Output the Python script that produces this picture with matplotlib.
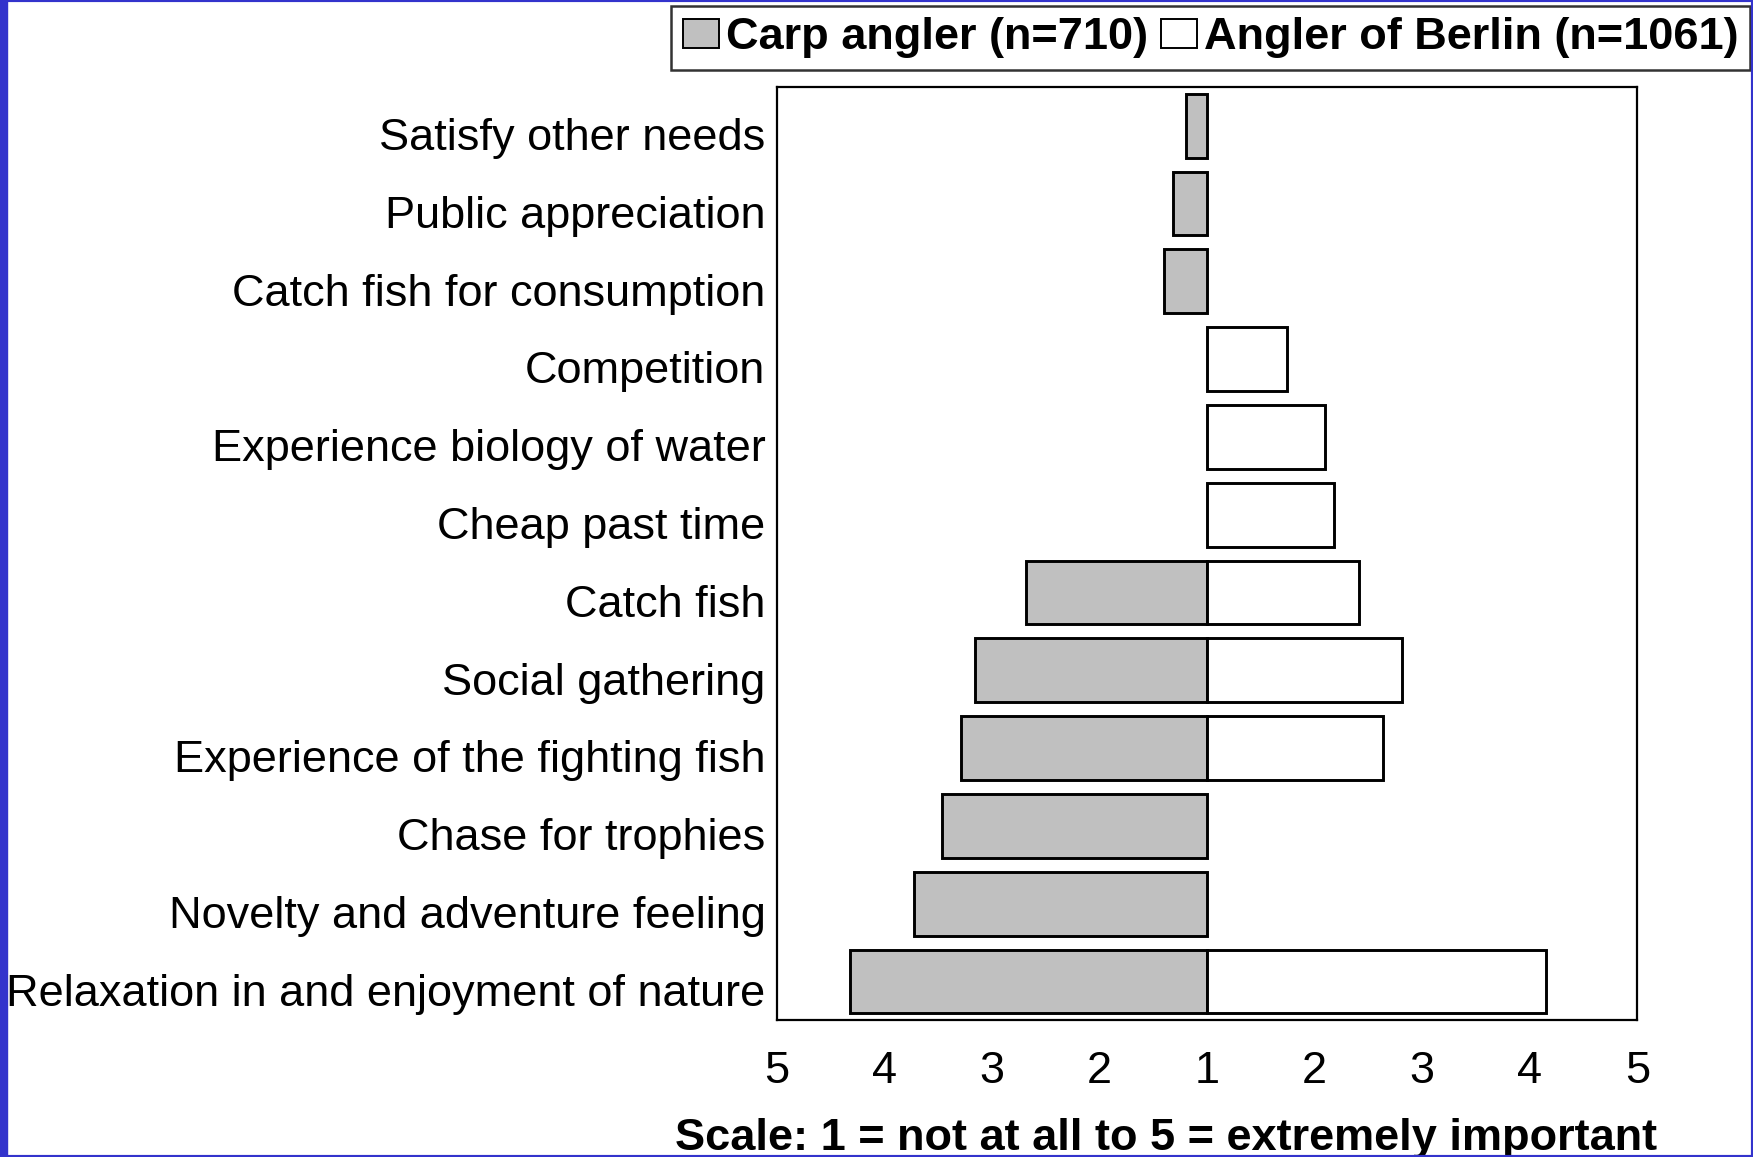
import matplotlib
matplotlib.use("Agg")
import matplotlib.pyplot as plt
import matplotlib.transforms as mtransforms
import numpy as np
from matplotlib.patches import Rectangle

plt.rcParams['font.family'] = ['Liberation Sans', 'DejaVu Sans']

motives = ["Satisfy other needs", "Public appreciation", "Catch fish for consumption",
           "Competition", "Experience biology of water", "Cheap past time",
           "Catch fish", "Social gathering", "Experience of the fighting fish",
           "Chase for trophies", "Novelty and adventure feeling",
           "Relaxation in and enjoyment of nature"]
carp = [1.19, 1.32, 1.40, np.nan, np.nan, np.nan, 2.68, 3.16, 3.29, 3.46, 3.72, 4.32]
berlin = [np.nan, np.nan, np.nan, 1.74, 2.10, 2.18, 2.41, 2.81, 2.64, np.nan, np.nan, 4.15]
tick_vals = [5, 4, 3, 2, 1, 2, 3, 4, 5]

fs = 32.5
fig = plt.figure(figsize=(17.53, 11.57), dpi=100)
ax = fig.add_axes([0.443, 0.118, 0.491, 0.807])

y = np.arange(len(motives))
carp = np.array(carp)
berlin = np.array(berlin)
ax.barh(y, -(carp - 1), height=0.82, color='#c0c0c0', edgecolor='black',
        linewidth=2.1, label='Carp angler (n=710)')
ax.barh(y, berlin - 1, height=0.82, color='white', edgecolor='black',
        linewidth=2.1, label='Angler of Berlin (n=1061)')

ax.set_xlim(-4, 4)
ax.set_ylim(len(motives) - 0.5, -0.5)
ax.set_xticks(np.arange(-4, 5))
ax.set_xticklabels([str(v) for v in tick_vals])
ax.set_yticks(y)
ax.set_yticklabels(motives)
ax.tick_params(axis='x', length=0, pad=22, labelsize=fs)
ax.tick_params(axis='y', length=0, pad=8, labelsize=fs)
# labels sit a little below the bar centres in the original
shift = mtransforms.ScaledTranslation(0, -6 / 72, fig.dpi_scale_trans)
for lab in ax.get_yticklabels():
    lab.set_transform(lab.get_transform() + shift)
for s in ax.spines.values():
    s.set_linewidth(1.6)

fig.text(0.665, 0.006, "Scale: 1 = not at all to 5 = extremely important",
         ha='center', va='baseline', fontsize=fs, fontweight='bold')

leg = fig.legend(loc='upper right', bbox_to_anchor=(1750 / 1753, 1 - 6 / 1157),
                 ncol=2, prop={'weight': 'bold', 'size': fs}, frameon=True,
                 fancybox=False, borderaxespad=0, handlelength=0.8,
                 handleheight=0.6, handletextpad=0.15, columnspacing=0.3,
                 borderpad=0.25)
leg.get_frame().set_edgecolor('black')
leg.get_frame().set_linewidth(1.8)
for h in leg.legend_handles:
    h.set_linewidth(1.4)

# blue slide border
blue = '#3333cc'
fig.patches.append(Rectangle((0, 0), 7 / 1753, 1, transform=fig.transFigure,
                             color=blue, zorder=10))
fig.patches.append(Rectangle((0, 0), 1, 1, transform=fig.transFigure,
                             fill=False, edgecolor=blue, linewidth=3, zorder=10))

fig.savefig("out.png", dpi=100)
